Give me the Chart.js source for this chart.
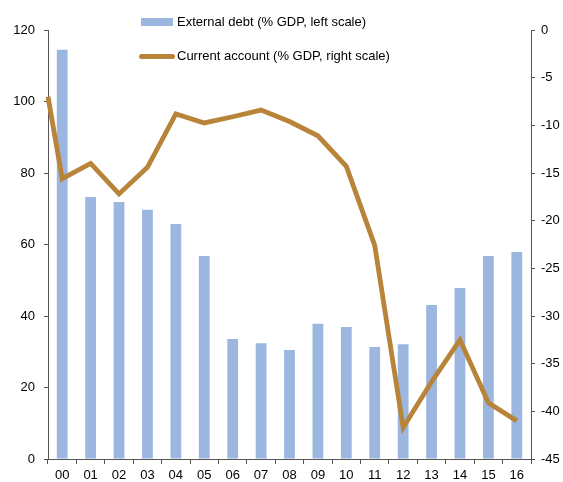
<!DOCTYPE html>
<html>
<head>
<meta charset="utf-8">
<script src="https://cdn.jsdelivr.net/npm/chart.js@4.4.1/dist/chart.umd.min.js"></script>
<style>
  html, body { margin: 0; padding: 0; background: #fff; }
  #wrap { position: relative; width: 563px; height: 482px; }
  #legend { position: absolute; left: 139px; top: 12px; font: 13px "Liberation Sans", Arial, sans-serif; color: #000; }
  .item { position: relative; height: 20px; line-height: 20px; padding-left: 38px; white-space: nowrap; }
  .item + .item { margin-top: 14px; }
  .box { position: absolute; left: 2px; top: 6px; width: 32px; height: 8px; background: #9BB7E0; }
  .ln { position: absolute; left: 0; top: 8px; width: 36px; height: 5px; border-radius: 3px; background: #B8843A; }
</style>
</head>
<body>
<div id="wrap">
  <canvas id="chart" width="563" height="482"></canvas>
  <div id="legend">
    <div class="item"><span class="box"></span>External debt (% GDP, left scale)</div>
    <div class="item"><span class="ln"></span>Current account (% GDP, right scale)</div>
  </div>
</div>
<script>
const years = ["00", "01", "02", "03", "04", "05", "06", "07", "08", "09", "10", "11", "12", "13", "14", "15", "16"];
const externalDebt = [114.5, 73.3, 71.9, 69.7, 65.7, 56.8, 33.6, 32.4, 30.5, 37.8, 36.9, 31.3, 32.1, 43.1, 47.8, 56.8, 57.9];
// current account starts at the left edge (end of 99), then one value per year
const currentAccountStart = -7.0;
const currentAccount = [-15.6, -14.0, -17.2, -14.4, -8.8, -9.75, -9.1, -8.4, -9.6, -11.1, -14.3, -22.6, -41.7, -36.9, -32.5, -39.1, -41.0];
const leftTicks = [0, 20, 40, 60, 80, 100, 120];
const rightTicks = [-45, -40, -35, -30, -25, -20, -15, -10, -5, 0];

const lineData = [{ x: -0.5, y: currentAccountStart }].concat(
  currentAccount.map((v, i) => ({ x: i, y: v }))
);

const tickFont = { family: "'Liberation Sans', Arial, sans-serif", size: 13 };
const axisColor = "#555";

new Chart(document.getElementById("chart").getContext("2d"), {
  type: "bar",
  data: {
    labels: years,
    datasets: [
      {
        type: "line",
        label: "Current account (% GDP, right scale)",
        data: lineData,
        xAxisID: "xl",
        yAxisID: "yr",
        borderColor: "#B8843A",
        borderWidth: 4.8,
        pointRadius: 0,
        tension: 0,
        clip: false,
      },
      {
        type: "bar",
        label: "External debt (% GDP, left scale)",
        data: externalDebt,
        xAxisID: "x",
        yAxisID: "y",
        backgroundColor: "#9BB7E0",
        borderWidth: 0,
        grouped: false,
        categoryPercentage: 1,
        barPercentage: 0.38,
      },
    ],
  },
  options: {
    responsive: false,
    animation: false,
    layout: { padding: { top: 30, left: 0, right: 0, bottom: 0 } },
    plugins: { legend: { display: false }, tooltip: { enabled: false } },
    scales: {
      x: {
        type: "category",
        position: "bottom",
        offset: true,
        grid: { display: true, drawOnChartArea: false, drawTicks: true, tickLength: 5, color: axisColor, offset: true },
        border: { display: true, color: axisColor, width: 1 },
        ticks: { font: tickFont, color: "#000", padding: 4, maxRotation: 0, autoSkip: false },
        afterFit: (s) => { s.height = 23; },
      },
      xl: {
        type: "linear",
        display: false,
        offset: false,
        min: -0.5,
        max: 16.5,
      },
      y: {
        position: "left",
        min: 0,
        max: 120,
        afterBuildTicks: (s) => { s.ticks = leftTicks.map((v) => ({ value: v })); },
        grid: { display: true, drawOnChartArea: false, drawTicks: true, tickLength: 4, color: axisColor },
        border: { display: true, color: axisColor, width: 1 },
        ticks: { font: tickFont, color: "#000", padding: 9 },
        afterFit: (s) => { s.width = 48; },
      },
      yr: {
        position: "right",
        min: -45,
        max: 0,
        afterBuildTicks: (s) => { s.ticks = rightTicks.map((v) => ({ value: v })); },
        grid: { display: true, drawOnChartArea: false, drawTicks: true, tickLength: 4, color: axisColor },
        border: { display: true, color: axisColor, width: 1 },
        ticks: { font: tickFont, color: "#000", padding: 6 },
        afterFit: (s) => { s.width = 32; },
      },
    },
  },
});
</script>
</body>
</html>
